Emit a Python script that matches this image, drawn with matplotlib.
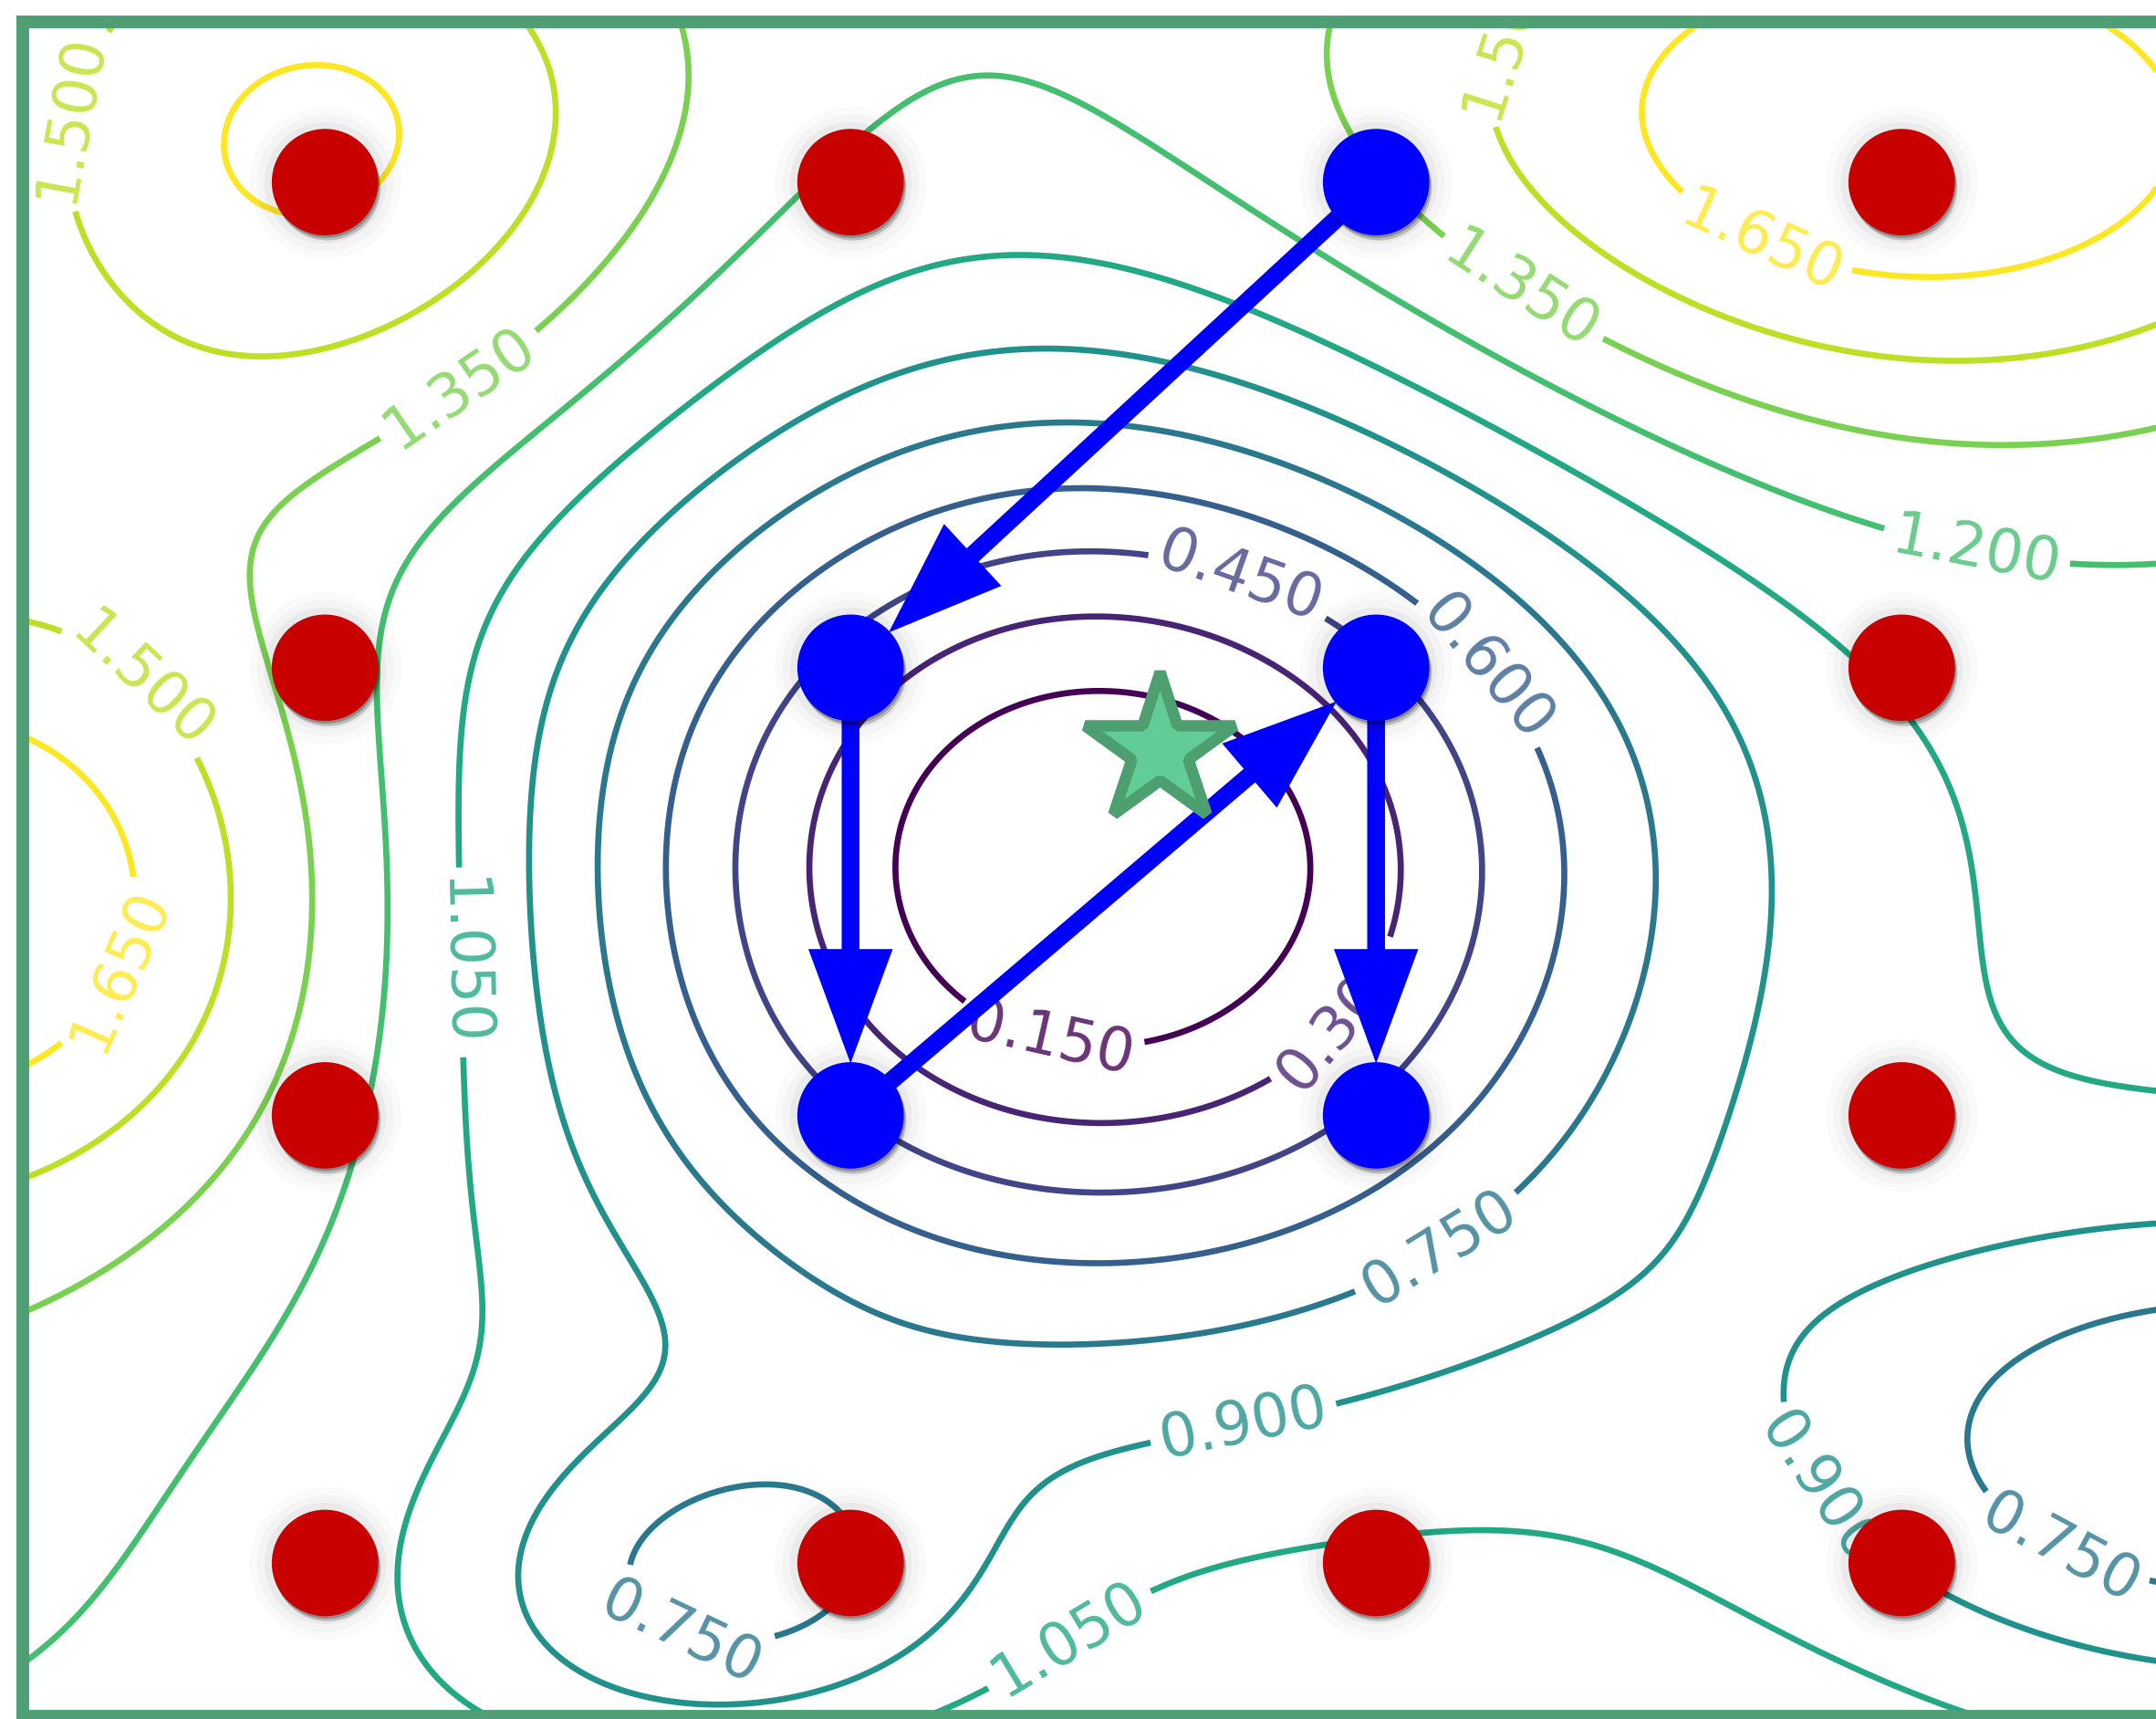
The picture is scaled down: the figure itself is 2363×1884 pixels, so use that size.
import numpy as np
import matplotlib.pyplot as plt
import matplotlib.patheffects as pe

# dot grid: column x positions and row y positions (plot units)
COL_X = [0.0, 1.0, 2.0, 3.0]
ROW_Y = [0.0, 1.0, 2.0, 3.085]

# (col, row) index pairs
RED_PTS = [(0, 3), (1, 3), (3, 3), (0, 2), (3, 2), (0, 1), (3, 1),
           (0, 0), (1, 0), (2, 0), (3, 0)]
BLUE_PTS = [(2, 3), (1, 2), (2, 2), (1, 1), (2, 1)]
PATH = [(2, 3), (1, 2), (1, 1), (2, 2), (2, 1)]
STAR = (1.588, 1.817)

LEVELS = [0.15, 0.30, 0.45, 0.60, 0.75, 0.90, 1.05, 1.20, 1.35, 1.50, 1.65]

# surface = BASE + sum of gaussian bumps
BASE = 1.12
BUMP_X = [1.475, -0.02, -0.75, 3.00, 1.30, 0.77, 3.65, 2.10, 0.90, -1.00]
BUMP_Y = [1.556, 3.17, 1.49, 3.20, 3.60, -0.08, 0.25, -0.62, -0.75, 0.20]
BUMP_SX = [0.707, 0.53, 0.62, 0.767, 0.70, 0.36, 0.60, 0.90, 0.50, 0.60]
BUMP_SY = [0.707, 0.53, 0.55, 0.513, 0.60, 0.28, 0.38, 0.45, 0.35, 0.60]
BUMP_AMP = [-1.14, 0.555, 0.68, 0.67, 0.055, -0.42, -0.533, 0.10, 0.15, 0.123]

# where the contour labels sit
LABEL_POS = [(-0.487, 3.23), (0.245, 2.647), (2.22, 3.43), (2.73, 2.94),
             (2.27, 2.83), (3.14, 2.25), (1.75, 2.23), (2.24, 2.03),
             (-0.30, 2.03), (-0.45, 1.357), (0.264, 1.342), (1.384, 1.188),
             (1.92, 1.234), (2.116, 0.711), (1.745, 0.327), (0.69, -0.118),
             (1.43, -0.195), (2.89, 0.205), (3.33, 0.097)]

XLIM = (-0.575, 3.484)
YLIM = (-0.3425, 3.443)

W, H = 2363, 1884
fig = plt.figure(figsize=(W / 100, H / 100), dpi=100)
ax = fig.add_axes([25 / W, 3 / H, 1 - 25 / W, (1860 - 3) / H])

gx = np.linspace(XLIM[0] - 0.05, XLIM[1] + 0.05, 600)
gy = np.linspace(YLIM[0] - 0.05, YLIM[1] + 0.05, 560)
X, Y = np.meshgrid(gx, gy)
Z = np.full_like(X, BASE)
for cx, cy, sx, sy, a in zip(BUMP_X, BUMP_Y, BUMP_SX, BUMP_SY, BUMP_AMP):
    Z += a * np.exp(-((X - cx) ** 2 / (2 * sx ** 2) + (Y - cy) ** 2 / (2 * sy ** 2)))

cs = ax.contour(X, Y, Z, levels=LEVELS, cmap='viridis', linewidths=4.8, zorder=1)
txts = ax.clabel(cs, inline=True, fmt='%.3f', fontsize=47, manual=LABEL_POS,
                 inline_spacing=8)
for t in txts:
    t.set_alpha(0.8)
    t.set_clip_on(True)
    t.set_zorder(2)

shadow = [pe.SimplePatchShadow(offset=(1, -2), shadow_rgbFace='k', alpha=0.25),
          pe.SimplePatchShadow(offset=(2, -4), shadow_rgbFace='k', alpha=0.2),
          pe.Normal()]

# arrows between the blue points
for (c0, r0), (c1, r1) in zip(PATH[:-1], PATH[1:]):
    ann = ax.annotate('', xy=(COL_X[c1], ROW_Y[r1]), xytext=(COL_X[c0], ROW_Y[r0]),
                      arrowprops=dict(arrowstyle='-|>,head_length=0.42,head_width=0.155',
                                      color='#0000ff', lw=14, mutation_scale=150,
                                      shrinkA=0, shrinkB=41, joinstyle='miter'),
                      zorder=3)
    ann.arrow_patch.set_path_effects(shadow)

dot_size = 84 ** 2
for pts, col in [(RED_PTS, '#c80000'), (BLUE_PTS, '#0000ff')]:
    px = [COL_X[c] for c, r in pts]
    py = [ROW_Y[r] for c, r in pts]
    for grow, al in [(36, 0.018), (24, 0.025), (12, 0.04)]:
        ax.scatter(px, py, s=(84 + grow) ** 2, color='k', alpha=al, lw=0, zorder=3.5)
    sc = ax.scatter(px, py, s=dot_size, color=col, lw=0, zorder=4)
    sc.set_path_effects(shadow)

ax.plot(*STAR, marker='*', ms=124, mfc='#61cc95', mec='#4e9f70', mew=9, zorder=5)

ax.set_xlim(*XLIM)
ax.set_ylim(*YLIM)
ax.set_xticks([])
ax.set_yticks([])
for side in ['left', 'top', 'bottom']:
    ax.spines[side].set_color('#4e9f73')
    ax.spines[side].set_linewidth(10)
ax.spines['right'].set_visible(False)

fig.savefig('out.png', dpi=100)
